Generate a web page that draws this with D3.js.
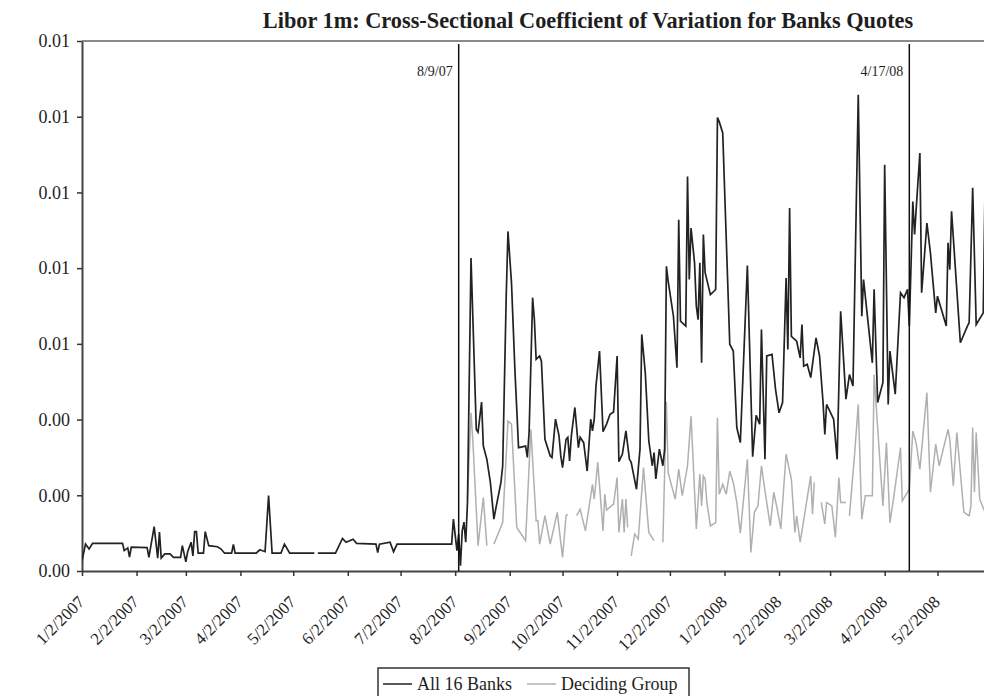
<!DOCTYPE html>
<html>
<head>
<meta charset="utf-8">
<script src="https://cdn.jsdelivr.net/npm/d3@7"></script>
<style>
    body { margin: 0; background: #fff; }
    svg text { font-family: "Liberation Serif", "Times New Roman", serif; fill: #1e1e1e; }
</style>
</head>
<body>
<div id="chart"></div>
<script>
// Libor 1m cross-sectional coefficient of variation

const allBanksDates = [
    "2007-01-02","2007-01-04","2007-01-06","2007-01-08","2007-01-25","2007-01-26","2007-01-28","2007-01-29","2007-01-30",
    "2007-02-08","2007-02-09","2007-02-10","2007-02-12","2007-02-14","2007-02-15","2007-02-16","2007-02-18","2007-02-21",
    "2007-02-23","2007-02-27","2007-02-28","2007-03-02","2007-03-03","2007-03-05","2007-03-06","2007-03-07","2007-03-08",
    "2007-03-09","2007-03-12","2007-03-13","2007-03-15","2007-03-20","2007-03-22","2007-03-24","2007-03-28","2007-03-29",
    "2007-03-30","2007-04-11","2007-04-13","2007-04-16","2007-04-18","2007-04-20","2007-04-25","2007-04-27","2007-04-30",
    "2007-05-14","2007-05-15","2007-05-16","2007-05-26","2007-05-30","2007-06-01","2007-06-05","2007-06-07","2007-06-18",
    "2007-06-19","2007-06-20","2007-06-26","2007-06-28","2007-06-30","2007-07-31","2007-08-01","2007-08-03","2007-08-04",
    "2007-08-05","2007-08-06","2007-08-07","2007-08-08","2007-08-09","2007-08-11","2007-08-14","2007-08-15","2007-08-17",
    "2007-08-18","2007-08-20","2007-08-22","2007-08-24","2007-08-25","2007-08-28","2007-08-29","2007-08-31","2007-09-01",
    "2007-09-03","2007-09-05","2007-09-06","2007-09-07","2007-09-11","2007-09-12","2007-09-13","2007-09-15","2007-09-16",
    "2007-09-17","2007-09-19","2007-09-20","2007-09-22","2007-09-25","2007-09-26","2007-09-28","2007-09-30","2007-10-01",
    "2007-10-02","2007-10-04","2007-10-05","2007-10-06","2007-10-07","2007-10-09","2007-10-11","2007-10-12","2007-10-14",
    "2007-10-16","2007-10-18","2007-10-19","2007-10-20","2007-10-21","2007-10-23","2007-10-25","2007-10-27","2007-10-29",
    "2007-10-31","2007-11-02","2007-11-03","2007-11-05","2007-11-07","2007-11-09","2007-11-10","2007-11-13","2007-11-15",
    "2007-11-16","2007-11-18","2007-11-20","2007-11-22","2007-11-23","2007-11-24","2007-11-26","2007-11-28","2007-11-29",
    "2007-11-30","2007-12-01","2007-12-04","2007-12-06","2007-12-07","2007-12-08","2007-12-11","2007-12-12","2007-12-13",
    "2007-12-14","2007-12-16","2007-12-17","2007-12-18","2007-12-19","2007-12-20","2007-12-21","2007-12-22","2007-12-25",
    "2007-12-27","2007-12-28","2007-12-29","2007-12-30","2008-01-01","2008-01-05","2008-01-07","2008-01-09","2008-01-11",
    "2008-01-15","2008-01-18","2008-01-20","2008-01-22","2008-01-23","2008-01-25","2008-01-26","2008-01-29","2008-01-31",
    "2008-02-02","2008-02-04","2008-02-06","2008-02-07","2008-02-08","2008-02-09","2008-02-12","2008-02-14","2008-02-15",
    "2008-02-16","2008-02-18","2008-02-20","2008-02-23","2008-02-25","2008-02-27","2008-02-28","2008-02-29","2008-03-04",
    "2008-03-06","2008-03-08","2008-03-11","2008-03-13","2008-03-15","2008-03-18","2008-03-20","2008-03-21","2008-03-23",
    "2008-03-26","2008-03-27","2008-03-29","2008-04-01","2008-04-02","2008-04-04","2008-04-05","2008-04-08","2008-04-11",
    "2008-04-13","2008-04-15","2008-04-16","2008-04-18","2008-04-19","2008-04-20","2008-04-22","2008-04-23","2008-04-26",
    "2008-04-28","2008-05-01","2008-05-02","2008-05-07","2008-05-08","2008-05-09","2008-05-10","2008-05-15","2008-05-19",
    "2008-05-20","2008-05-22","2008-05-24","2008-05-28","2008-05-29"
];
const allBanksValues = [
    0.00027,0.00071,0.00058,0.00073,0.00073,0.00054,0.00061,0.00037,0.00063,
    0.00062,0.00036,0.00063,0.00117,0.00034,0.00103,0.00034,0.00045,0.00045,
    0.00036,0.00036,0.00067,0.00024,0.00050,0.00076,0.00040,0.00104,0.00104,
    0.00047,0.00047,0.00104,0.00067,0.00064,0.00058,0.00047,0.00047,0.00070,
    0.00047,0.00047,0.00056,0.00051,0.00199,0.00047,0.00047,0.00071,0.00047,
    0.00047,null,0.00047,0.00047,0.00086,0.00076,0.00084,0.00073,0.00071,
    0.00049,0.00071,0.00076,0.00051,0.00071,0.00071,0.00137,0.00054,0.00098,
    0.00014,0.00106,0.00129,0.00076,0.00182,0.00827,0.00374,0.00367,0.00446,
    0.00330,0.00295,0.00234,0.00137,0.00163,0.00234,0.00278,0.00726,0.00897,
    0.00761,0.00524,0.00427,0.00326,0.00330,0.00300,0.00366,0.00722,0.00664,
    0.00559,0.00568,0.00554,0.00348,0.00304,0.00300,0.00401,0.00357,0.00304,
    0.00273,0.00348,0.00353,0.00291,0.00357,0.00432,0.00326,0.00353,0.00339,
    0.00264,0.00401,0.00370,0.00401,0.00489,0.00581,0.00368,0.00388,0.00414,
    0.00420,0.00568,0.00289,0.00309,0.00370,0.00295,0.00287,0.00216,0.00322,
    0.00625,0.00524,0.00344,0.00278,0.00313,0.00243,0.00322,0.00278,0.00322,
    0.00805,0.00766,0.00673,0.00537,0.00928,0.00660,0.00647,0.01042,0.00770,
    0.00906,0.00814,0.00700,0.00664,0.00814,0.00550,0.00889,0.00788,0.00730,
    0.00739,0.00744,0.01198,0.01187,0.01157,0.00599,0.00581,0.00379,0.00339,
    0.00807,0.00302,0.00411,0.00388,0.00638,0.00295,0.00568,0.00572,0.00480,
    0.00418,0.00445,0.00774,0.00585,0.00959,0.00620,0.00607,0.00563,0.00651,
    0.00541,0.00546,0.00511,0.00616,0.00568,0.00445,0.00361,0.00440,0.00401,
    0.00295,0.00686,0.00454,0.00519,0.00489,0.01258,0.00673,0.00770,0.00682,
    0.00550,0.00744,0.00445,0.00498,0.01073,0.00440,0.00581,0.00467,0.00735,
    0.00722,0.00744,0.00647,0.00976,0.00889,0.00963,0.01104,0.00735,0.00919,
    0.00840,0.00682,0.00726,0.00647,0.00867,0.00796,0.00950,0.00603,0.00647,
    0.00656,0.01012,0.00651,0.00682,0.01007
];

const decidingDates = [
    "2007-08-09","2007-08-11","2007-08-12","2007-08-15","2007-08-18","2007-08-20","2007-08-21","2007-08-24","2007-08-29",
    "2007-09-01","2007-09-03","2007-09-06","2007-09-11","2007-09-14","2007-09-17","2007-09-18","2007-09-19","2007-09-22",
    "2007-09-25","2007-09-29","2007-10-02","2007-10-04","2007-10-05","2007-10-06","2007-10-10","2007-10-12","2007-10-15",
    "2007-10-19","2007-10-20","2007-10-22","2007-10-25","2007-10-26","2007-10-27","2007-10-31","2007-11-02","2007-11-03",
    "2007-11-05","2007-11-06","2007-11-07","2007-11-08","2007-11-09","2007-11-10","2007-11-12","2007-11-14","2007-11-17",
    "2007-11-20","2007-11-23","2007-11-24","2007-11-28","2007-11-30","2007-12-01","2007-12-05","2007-12-07","2007-12-09",
    "2007-12-12","2007-12-14","2007-12-17","2007-12-19","2007-12-20","2007-12-21","2007-12-22","2007-12-23","2007-12-25",
    "2007-12-28","2007-12-29","2007-12-30","2008-01-01","2008-01-03","2008-01-05","2008-01-07","2008-01-09","2008-01-11",
    "2008-01-15","2008-01-17","2008-01-19","2008-01-21","2008-01-23","2008-01-25","2008-01-28","2008-01-30","2008-02-01",
    "2008-02-03","2008-02-06","2008-02-08","2008-02-09","2008-02-11","2008-02-12","2008-02-14","2008-02-20","2008-02-21",
    "2008-02-22","2008-02-23","2008-02-26","2008-02-28","2008-02-29","2008-03-03","2008-03-05","2008-03-07","2008-03-08",
    "2008-03-11","2008-03-12","2008-03-13","2008-03-16","2008-03-18","2008-03-20","2008-03-22","2008-03-26","2008-03-27",
    "2008-04-01","2008-04-03","2008-04-05","2008-04-07","2008-04-11","2008-04-12","2008-04-16","2008-04-18","2008-04-20",
    "2008-04-22","2008-04-26","2008-04-28","2008-05-01","2008-05-03","2008-05-08","2008-05-09","2008-05-11","2008-05-13",
    "2008-05-17","2008-05-20","2008-05-21","2008-05-22","2008-05-23","2008-05-24","2008-05-26","2008-05-29"
];
const decidingValues = [
    0.00190,0.00418,0.00348,0.00067,0.00194,0.00067,null,0.00071,0.00128,
    0.00396,0.00388,0.00115,0.00080,0.00374,0.00133,0.00133,0.00071,0.00146,
    0.00071,0.00155,0.00036,0.00146,0.00150,null,0.00146,0.00163,0.00106,
    0.00229,0.00190,0.00287,0.00106,0.00203,0.00161,0.00177,0.00247,0.00102,
    0.00190,0.00102,0.00190,0.00115,null,0.00040,0.00098,0.00084,0.00273,
    0.00102,0.00080,null,0.00076,0.00447,0.00260,0.00190,0.00269,0.00199,
    0.00278,0.00409,0.00111,0.00256,0.00172,0.00251,0.00243,0.00181,0.00119,
    0.00128,0.00405,0.00203,0.00229,0.00203,0.00264,0.00234,0.00181,0.00100,
    0.00295,0.00049,0.00155,0.00172,0.00278,0.00212,0.00119,0.00208,0.00163,
    0.00111,0.00309,0.00264,0.00243,0.00102,0.00146,0.00076,0.00251,0.00150,
    0.00234,null,0.00181,0.00124,0.00181,0.00172,0.00089,0.00247,0.00181,
    0.00181,null,0.00146,0.00313,0.00440,0.00137,0.00199,0.00199,0.00519,
    0.00172,0.00339,0.00128,0.00190,0.00326,0.00185,0.00216,0.00370,0.00335,
    0.00269,0.00471,0.00208,0.00335,0.00278,0.00374,0.00348,0.00225,0.00366,
    0.00155,0.00146,0.00172,0.00379,0.00208,0.00366,0.00190,0.00155
];

const xTickDates = [
    "2007-01-02","2007-02-02","2007-03-02","2007-04-02","2007-05-02","2007-06-02","2007-07-02","2007-08-02","2007-09-02",
    "2007-10-02","2007-11-02","2007-12-02","2008-01-02","2008-02-02","2008-03-02","2008-04-02","2008-05-02"
];
const yTicks = [0, 0.002, 0.004, 0.006, 0.008, 0.010, 0.012, 0.014];
const markerDates = ["2007-08-04", "2008-04-16"];
const markerLabels = ["8/9/07", "4/17/08"];
const seriesNames = ["All 16 Banks", "Deciding Group"];

const width = 984, height = 696;
const margin = { top: 41, left: 82 };
const inner_w = 903;
const inner_h = 530;
const parse = d3.timeParse("%Y-%m-%d");

const svg = d3.select("#chart")
    .append("svg")
    .attr("width", width)
    .attr("height", height);

const chart = svg.append("g")
    .attr("transform", `translate(${margin.left},${margin.top})`);

// Title
svg.append("text")
    .attr("x", 588)
    .attr("y", 28)
    .attr("text-anchor", "middle")
    .style("font-size", "22.3px")
    .style("font-weight", "bold")
    .text("Libor 1m: Cross-Sectional Coefficient of Variation for Banks Quotes");

const x = d3.scaleTime()
    .domain([parse("2007-01-02"), parse("2008-05-29")])
    .range([0, inner_w]);

const y = d3.scaleLinear()
    .domain([0, 0.014])
    .range([inner_h, 0]);

// top frame line
chart.append("line")
    .attr("x1", 0).attr("x2", inner_w + 10)
    .attr("y1", 0).attr("y2", 0)
    .attr("stroke", "#8a8a8a")
    .attr("stroke-width", 2);

// X axis
const xAxis = chart.append("g")
    .attr("transform", `translate(0,${inner_h})`)
    .call(d3.axisBottom(x)
        .tickValues(xTickDates.map(parse))
        .tickSize(5)
        .tickSizeOuter(0)
        .tickFormat(d3.timeFormat("%-m/%-d/%Y")));
xAxis.select(".domain").attr("stroke", "#444").attr("stroke-width", 2);
xAxis.selectAll(".tick line").attr("stroke", "#333").attr("stroke-width", 1.5);
xAxis.selectAll(".tick text")
    .style("font-size", "17px")
    .attr("text-anchor", "end")
    .attr("dy", null)
    .attr("y", null)
    .attr("transform", "translate(3,32) rotate(-45)");

// Y axis
const yAxis = chart.append("g")
    .call(d3.axisLeft(y)
        .tickValues(yTicks)
        .tickSize(5)
        .tickSizeOuter(0)
        .tickFormat(d3.format(".2f")));
yAxis.select(".domain").attr("stroke", "#444").attr("stroke-width", 2);
yAxis.selectAll(".tick line").attr("stroke", "#333").attr("stroke-width", 1.5);
yAxis.selectAll(".tick text")
    .style("font-size", "18px")
    .attr("x", -12);

// clip for series
svg.append("defs").append("clipPath")
    .attr("id", "plot-clip")
    .append("rect")
    .attr("x", 0).attr("y", -2)
    .attr("width", inner_w + 10).attr("height", inner_h + 2);

const line = d3.line()
    .defined(d => d.v !== null)
    .x(d => x(d.date))
    .y(d => y(d.v));

const deciding = decidingDates.map((d, i) => ({ date: parse(d), v: decidingValues[i] }));
const allBanks = allBanksDates.map((d, i) => ({ date: parse(d), v: allBanksValues[i] }));

const plot = chart.append("g").attr("clip-path", "url(#plot-clip)");

plot.append("path")
    .datum(deciding)
    .attr("fill", "none")
    .attr("stroke", "#b0b0b0")
    .attr("stroke-width", 1.5)
    .attr("d", line);

plot.append("path")
    .datum(allBanks)
    .attr("fill", "none")
    .attr("stroke", "#222")
    .attr("stroke-width", 1.7)
    .attr("d", line);

// event markers
markerDates.forEach((d, i) => {
    const mx = x(parse(d));
    chart.append("line")
        .attr("x1", mx).attr("x2", mx)
        .attr("y1", 3).attr("y2", inner_h)
        .attr("stroke", "#111")
        .attr("stroke-width", 1.5);
    chart.append("text")
        .attr("x", mx - 6)
        .attr("y", 35)
        .attr("text-anchor", "end")
        .style("font-size", "14px")
        .text(markerLabels[i]);
});

// Legend
const legend = svg.append("g").attr("transform", "translate(378,668)");
legend.append("rect")
    .attr("width", 311).attr("height", 40)
    .attr("fill", "#fff")
    .attr("stroke", "#333")
    .attr("stroke-width", 1.5);
const legendColors = ["#222", "#b0b0b0"];
const legendX = [5, 149];
seriesNames.forEach((name, i) => {
    legend.append("line")
        .attr("x1", legendX[i]).attr("x2", legendX[i] + 29)
        .attr("y1", 16).attr("y2", 16)
        .attr("stroke", legendColors[i])
        .attr("stroke-width", 1.5);
    legend.append("text")
        .attr("x", legendX[i] + 34)
        .attr("y", 22)
        .style("font-size", "18px")
        .text(name);
});
</script>
</body>
</html>
